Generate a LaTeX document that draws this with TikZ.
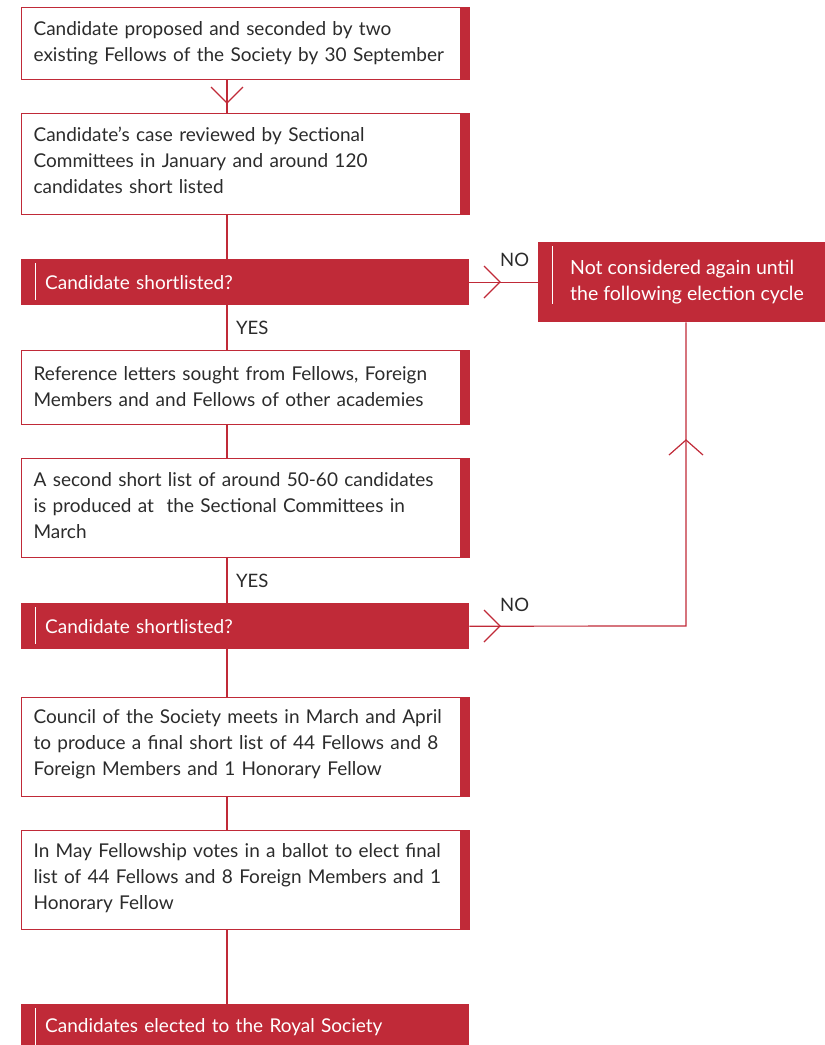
\documentclass[tikz,border=0pt]{standalone}
\usepackage{fontspec}
\setmainfont{Lato}
\definecolor{rsred}{HTML}{C02A38}
\definecolor{txt}{HTML}{2B2B2B}
\begin{document}
\begin{tikzpicture}[x=1pt,y=-1pt,
  box/.style={draw=rsred, line width=1.2pt, anchor=north west, text width=424pt, inner xsep=12pt, inner ysep=0pt, align=left, text=txt, font=\fontsize{19}{26}\selectfont},
  bar/.style={fill=rsred, anchor=north west, text width=400pt, inner xsep=24pt, inner ysep=0pt, minimum height=46pt, align=left, text=white, font=\fontsize{19}{26}\selectfont},
  conn/.style={draw=rsred, line width=1.2pt},
  lab/.style={text=txt, font=\fontsize{18.5}{22}\selectfont, inner sep=0pt, anchor=west}
]
\useasboundingbox (0,0) rectangle (825,1045);

\node[box, minimum height=72pt] (b1) at (21,7) {Candidate proposed and seconded by two\\existing Fellows of the Society by 30 September};
\node[box, minimum height=101pt] (b2) at (21,113) {Candidate’s case reviewed by Sectional\\Committees in January and around 120\\candidates short listed\par\vspace*{7pt}};
\node[bar] (q1) at (21,259) {Candidate shortlisted?};
\node[fill=rsred, anchor=north west, minimum width=287pt, minimum height=80pt, inner sep=0pt] (nc) at (538,242) {};
\node[anchor=north west, text=white, align=left, inner sep=0pt, font=\fontsize{19.5}{26}\selectfont] (nct) at (570,260) {Not considered again until\\the following election cycle};
\node[box, minimum height=74pt] (b3) at (21,350) {Reference letters sought from Fellows, Foreign\\Members and and Fellows of other academies\par\vspace*{2pt}};
\node[box, minimum height=99pt] (b4) at (21,458) {A second short list of around 50-60 candidates\\is produced at~ the Sectional Committees in\\March\par\vspace*{5pt}};
\node[bar] (q2) at (21,603) {Candidate shortlisted?};
\node[box, minimum height=99pt] (b5) at (21,697) {Council of the Society meets in March and April\\to produce a final short list of 44 Fellows and 8\\Foreign Members and 1 Honorary Fellow\par\vspace*{5pt}};
\node[box, minimum height=99pt] (b6) at (21,830) {In May Fellowship votes in a ballot to elect final\\list of 44 Fellows and 8 Foreign Members and 1\\Honorary Fellow\par\vspace*{4pt}};
\node[bar, minimum height=46pt] (q3) at (21,1004) {Candidates elected to the Royal Society};

% thick right bars
\foreach \b in {b1,b2,b3,b4,b5,b6}{
  \fill[rsred] ([xshift=-10pt]\b.north east) rectangle (\b.south east);
}
% white inner lines on red bars
\foreach \b in {q1,q2}{
  \draw[white, line width=1pt] ([xshift=14pt,yshift=-4pt]\b.north west) -- ([xshift=14pt,yshift=5pt]\b.south west);
}
\draw[white, line width=1pt] ([xshift=14pt,yshift=-4pt]q3.north west) -- ([xshift=14pt,yshift=-41pt]q3.north west);
\draw[white, line width=1pt] ([xshift=14pt,yshift=-4pt]nc.north west) -- ([xshift=14pt,yshift=-62pt]nc.north west);

% spine connectors
\draw[conn] (b1.south -| 227,0) -- (b2.north -| 227,0);
\coordinate (t1) at (227,103);
\draw[conn] ([shift={(-16,-16)}]t1) -- (t1) -- ([shift={(16,-16)}]t1);
\draw[conn] (b2.south -| 227,0) -- (q1.north -| 227,0);
\draw[conn] (q1.south -| 227,0) -- (b3.north -| 227,0);
\draw[conn] (b3.south -| 227,0) -- (b4.north -| 227,0);
\draw[conn] (b4.south -| 227,0) -- (q2.north -| 227,0);
\draw[conn] (q2.south -| 227,0) -- (b5.north -| 227,0);
\draw[conn] (b5.south -| 227,0) -- (b6.north -| 227,0);
\draw[conn] (b6.south -| 227,0) -- (q3.north -| 227,0);

% NO branches
\draw[conn] (q1.east) -- (q1.east -| nc.west);
\coordinate (t2) at (500,282);
\draw[conn] ([shift={(-16,-16)}]t2) -- (t2) -- ([shift={(-16,16)}]t2);
\coordinate (corner) at (686,626);
\draw[conn] (q2.east) -- (corner) -- (corner |- nc.south);
\coordinate (t3) at (500,626);
\draw[conn] ([shift={(-16,-16)}]t3) -- (t3) -- ([shift={(-16,16)}]t3);
\coordinate (t4) at (686,440);
\draw[conn] ([shift={(-17,15)}]t4) -- (t4) -- ([shift={(17,15)}]t4);

% labels
\node[lab] (no1) at (500,260) {NO};
\node[lab] (no2) at (500,605) {NO};
\node[lab] (yes1) at (236,328) {YES};
\node[lab] (yes2) at (236,581) {YES};
\end{tikzpicture}
\end{document}
